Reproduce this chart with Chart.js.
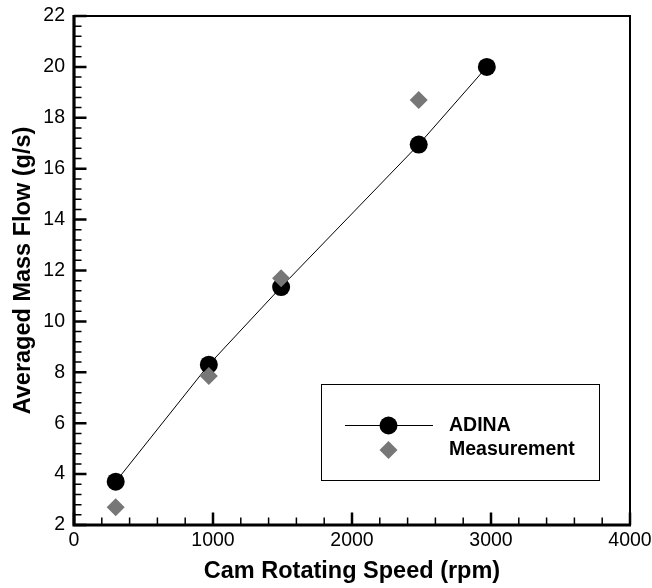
<!DOCTYPE html>
<html>
<head>
<meta charset="utf-8">
<script src="https://cdn.jsdelivr.net/npm/chart.js@4"></script>
<style>
  html, body { margin: 0; padding: 0; background: #fff; }
  #wrap { width: 652px; height: 588px; }
</style>
</head>
<body>
<div id="wrap"><canvas id="massFlowChart" width="652" height="588"></canvas></div>
<script>
// values
const adinaSpeed = [300, 970, 1490, 2480, 2970];
const adinaFlow = [3.7, 8.3, 11.35, 16.95, 20.0];
const measSpeed = [300, 970, 1490, 2480];
const measFlow = [2.7, 7.85, 11.7, 18.7];
const xTicks = [0, 1000, 2000, 3000, 4000];
const yTicks = [2, 4, 6, 8, 10, 12, 14, 16, 18, 20, 22];

const FONT = "'Liberation Sans', Arial, Helvetica, sans-serif";
const toPoints = (xs, ys) => xs.map((x, i) => ({ x, y: ys[i] }));

// inward ticks, plot frame and the boxed legend
const framePlugin = {
  id: 'frame',
  afterDraw(chart) {
    const { ctx, chartArea: a, scales } = chart;
    const xs = scales.x;
    const ys = scales.y;
    ctx.save();
    ctx.strokeStyle = '#000';

    // minor ticks
    ctx.lineWidth = 1.5;
    ctx.beginPath();
    for (let v = 200; v < 4000; v += 200) {
      if (v % 1000 === 0) continue;
      const px = xs.getPixelForValue(v);
      ctx.moveTo(px, a.bottom);
      ctx.lineTo(px, a.bottom - 7.5);
    }
    for (let i = 1; i < 50; i++) {
      if (i % 5 === 0) continue;
      const py = ys.getPixelForValue(2 + i * 0.4);
      ctx.moveTo(a.left, py);
      ctx.lineTo(a.left + 7.5, py);
    }
    ctx.stroke();

    // major ticks
    ctx.lineWidth = 2.5;
    ctx.beginPath();
    xTicks.forEach(v => {
      const px = xs.getPixelForValue(v);
      ctx.moveTo(px, a.bottom);
      ctx.lineTo(px, a.bottom - 12.5);
    });
    yTicks.forEach(v => {
      const py = ys.getPixelForValue(v);
      ctx.moveTo(a.left, py);
      ctx.lineTo(a.left + 12.5, py);
    });
    ctx.stroke();

    // top / right frame
    ctx.lineWidth = 2;
    ctx.beginPath();
    ctx.moveTo(a.left, a.top);
    ctx.lineTo(a.right, a.top);
    ctx.lineTo(a.right, a.bottom);
    ctx.stroke();

    // left / bottom axis lines
    ctx.lineWidth = 3.2;
    ctx.beginPath();
    ctx.moveTo(a.left, a.top - 1);
    ctx.lineTo(a.left, a.bottom);
    ctx.lineTo(a.right + 1, a.bottom);
    ctx.stroke();

    // legend
    ctx.lineWidth = 1;
    ctx.strokeRect(321.5, 384.5, 278, 96);
    ctx.beginPath();
    ctx.moveTo(345, 425.5);
    ctx.lineTo(433, 425.5);
    ctx.stroke();
    ctx.fillStyle = '#000';
    ctx.beginPath();
    ctx.arc(388.5, 425.5, 9, 0, Math.PI * 2);
    ctx.fill();
    ctx.fillStyle = '#777777';
    ctx.beginPath();
    ctx.moveTo(388.5, 441);
    ctx.lineTo(397.5, 450);
    ctx.lineTo(388.5, 459);
    ctx.lineTo(379.5, 450);
    ctx.closePath();
    ctx.fill();

    ctx.fillStyle = '#000';
    ctx.font = `bold 19.5px ${FONT}`;
    ctx.textBaseline = 'middle';
    ctx.textAlign = 'left';
    ctx.fillText(chart.data.datasets[1].label, 449, 426);
    ctx.fillText(chart.data.datasets[0].label, 449, 450);
    ctx.restore();
  },
};

const chart = new Chart(document.getElementById('massFlowChart').getContext('2d'), {
  type: 'scatter',
  data: {
    datasets: [
      {
        label: 'Measurement',
        data: toPoints(measSpeed, measFlow),
        showLine: false,
        pointStyle: 'rectRot',
        pointRadius: 9,
        pointHoverRadius: 9,
        backgroundColor: '#777777',
        borderColor: '#777777',
        borderWidth: 0,
      },
      {
        label: 'ADINA',
        data: toPoints(adinaSpeed, adinaFlow),
        showLine: true,
        borderColor: '#000',
        borderWidth: 1,
        pointRadius: 9,
        pointHoverRadius: 9,
        pointBackgroundColor: '#000',
        pointBorderColor: '#000',
        pointBorderWidth: 0,
      },
    ],
  },
  options: {
    responsive: false,
    animation: false,
    devicePixelRatio: 1,
    layout: { padding: { top: 16, right: 22, left: 0, bottom: 0 } },
    plugins: { legend: { display: false }, tooltip: { enabled: false } },
    scales: {
      x: {
        type: 'linear',
        min: 0,
        max: 4000,
        afterBuildTicks: scale => {
          scale.ticks = xTicks.map(value => ({ value }));
        },
        afterFit: scale => {
          scale.height = 63;
          scale.paddingLeft = 0;
          scale.paddingRight = 0;
        },
        grid: { display: false, drawTicks: false },
        border: { display: false },
        ticks: {
          color: '#000',
          padding: 4,
          maxRotation: 0,
          callback: v => String(v),
          font: { family: FONT, size: 19.5 },
        },
        title: {
          display: true,
          text: 'Cam Rotating Speed (rpm)',
          color: '#000',
          padding: { bottom: 2 },
          font: { family: FONT, size: 23.5, weight: 'bold' },
        },
      },
      y: {
        type: 'linear',
        min: 2,
        max: 22,
        afterBuildTicks: scale => {
          scale.ticks = yTicks.map(value => ({ value }));
        },
        afterFit: scale => {
          scale.width = 74;
          scale.paddingTop = 0;
          scale.paddingBottom = 0;
        },
        grid: { display: false, drawTicks: false },
        border: { display: false },
        ticks: {
          color: '#000',
          padding: 9,
          callback: v => String(v),
          font: { family: FONT, size: 19.5 },
        },
        title: {
          display: true,
          text: 'Averaged Mass Flow (g/s)',
          color: '#000',
          padding: { top: 9 },
          font: { family: FONT, size: 23.5, weight: 'bold' },
        },
      },
    },
  },
  plugins: [framePlugin],
});
</script>
</body>
</html>
